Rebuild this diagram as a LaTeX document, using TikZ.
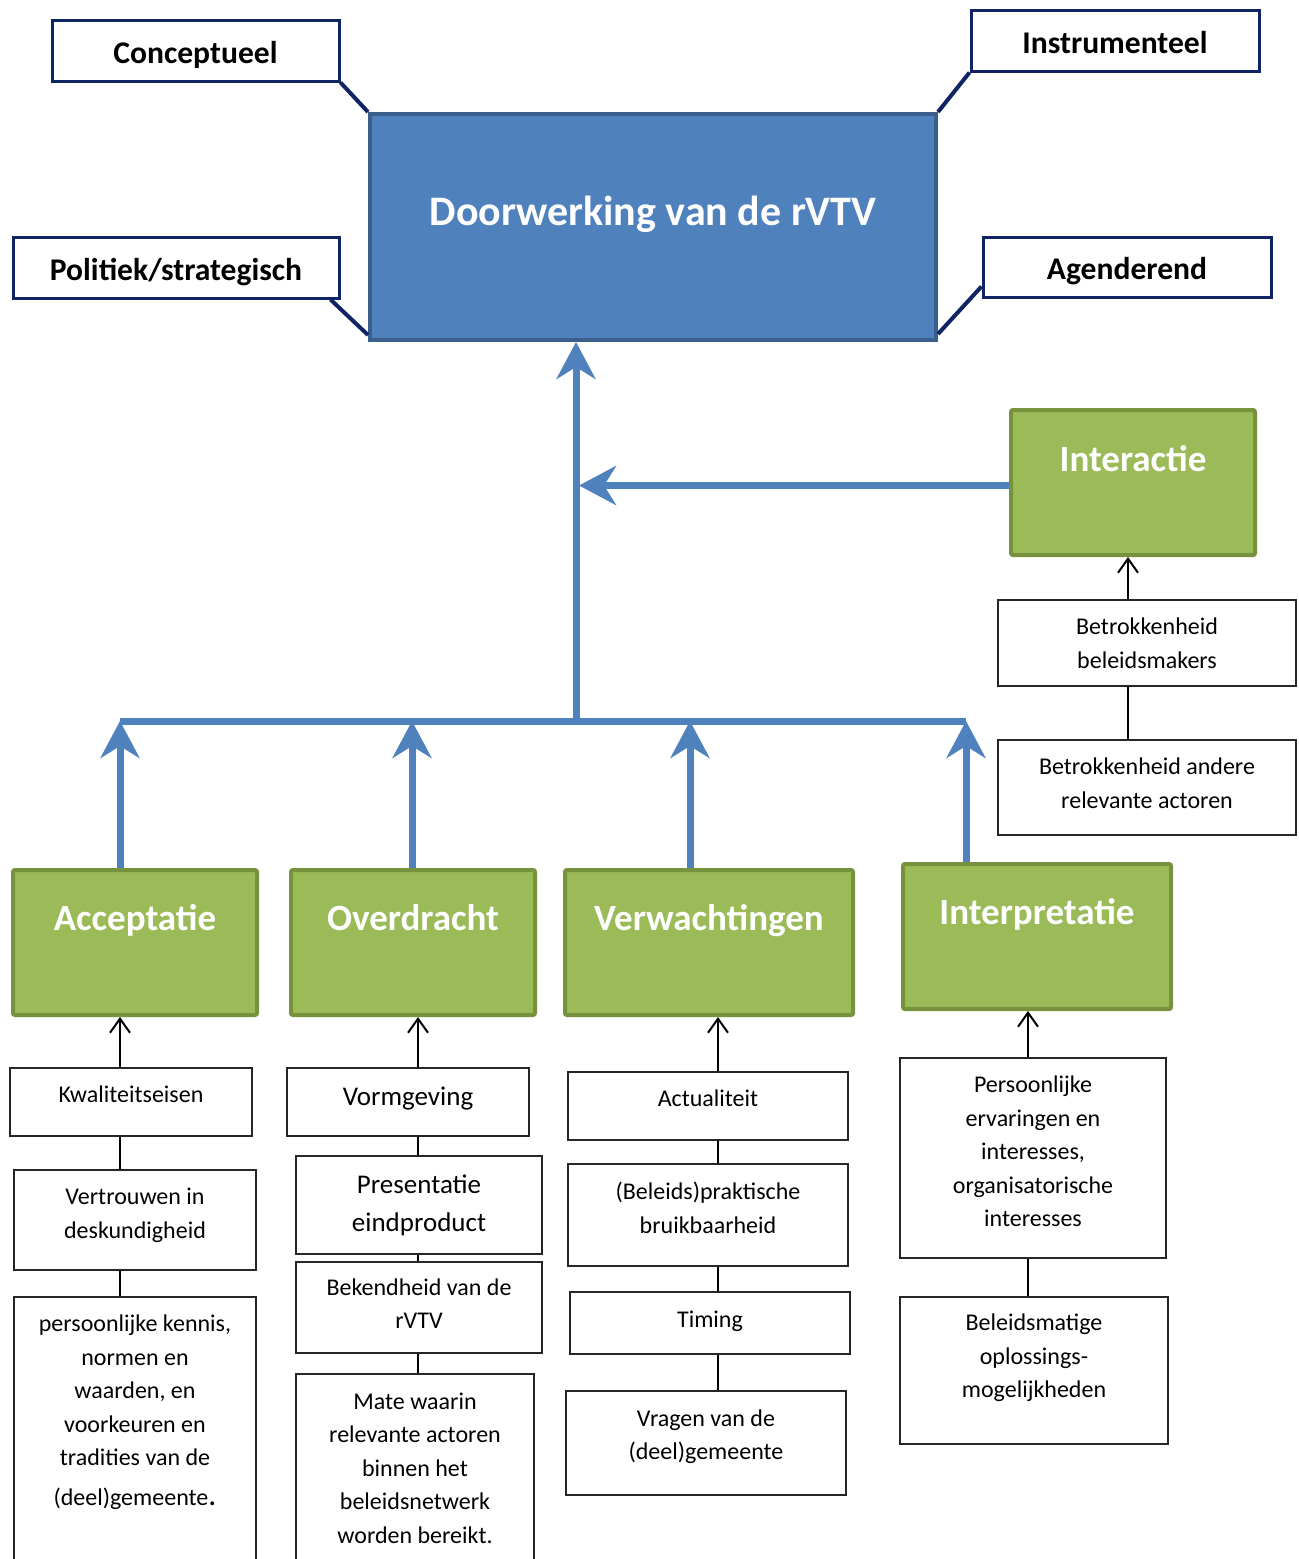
\documentclass[tikz,border=0pt]{standalone}
\usepackage{fontspec}
\setmainfont{Carlito}
\usetikzlibrary{arrows.meta,calc}

\definecolor{navy}{HTML}{0E2463}
\definecolor{mainblue}{HTML}{4F81BD}
\definecolor{mainedge}{HTML}{3A5F8B}
\definecolor{grfill}{HTML}{9BBB59}
\definecolor{gredge}{HTML}{76923C}

% box from two corners (pixel units): style, name, x1, y1, x2, y2
\newcommand\boxat[6]{%
  \node[#1, minimum width={(#5-#3)*0.5pt}, minimum height={(#6-#4)*0.5pt}]
    (#2) at ({(#3+#5)/2},{(#4+#6)/2}) {};}

\tikzset{
  navybox/.style={draw=navy, line width=1.5pt, fill=white, inner sep=0pt},
  mainbox/.style={draw=mainedge, line width=2pt, fill=mainblue, inner sep=0pt},
  greenbox/.style={draw=gredge, line width=2pt, fill=grfill, rounded corners=1pt, inner sep=0pt},
  smallbox/.style={draw=black!85, line width=0.8pt, fill=white, inner sep=0pt},
  navytxt/.style={anchor=base, inner sep=0pt, font=\fontsize{15.8pt}{19pt}\selectfont\bfseries},
  maintxt/.style={anchor=base, inner sep=0pt, text=white, font=\fontsize{21pt}{25pt}\selectfont\bfseries},
  greentxt/.style={anchor=base, inner sep=0pt, text=white, font=\fontsize{18.5pt}{22pt}\selectfont\bfseries},
  smtxt/.style={anchor=north, inner sep=0pt, align=center,
    font=\fontsize{12pt}{16.75pt}\selectfont, execute at begin node=\strut},
  mdtxt/.style={anchor=north, inner sep=0pt, align=center,
    font=\fontsize{13.5pt}{19pt}\selectfont, execute at begin node=\strut},
  navyline/.style={draw=navy, line width=2pt},
  bluebar/.style={draw=mainblue, line width=3.5pt},
  bluearrow/.style={draw=mainblue, line width=3.5pt,
    -{Stealth[length=18.5pt, width=19.5pt, inset=6pt]}},
  blackline/.style={draw=black, line width=1pt},
  blackarrow/.style={draw=black, line width=1pt,
    -{Straight Barb[length=7pt, width=10pt]}},
}

\begin{document}
\begin{tikzpicture}[x=0.5pt, y=-0.5pt]
\clip (0,0) rectangle (1299,1559);
\fill[white] (0,0) rectangle (1299,1559);

% ---- central box and the four kinds of use ----
\boxat{mainbox}{main}{370}{114}{936}{340}
\node[maintxt] (maint) at ($(main.north)+(0,113)$) {Doorwerking van de rVTV};

\boxat{navybox}{con}{52}{20}{339}{81}
\boxat{navybox}{pol}{13}{237}{339}{298}
\boxat{navybox}{ins}{971}{10}{1259}{71}
\boxat{navybox}{agd}{983}{237}{1271}{297}
\node[navytxt] (cont) at ($(con.north)+(0,45)$) {Conceptueel};
\node[navytxt] (polt) at ($(pol.north)+(0,45)$) {Politiek/strategisch};
\node[navytxt] (inst) at ($(ins.north)+(0,45)$) {Instrumenteel};
\node[navytxt] (agdt) at ($(agd.north)+(0,44)$) {Agenderend};

\draw[navyline] (con.south east) -- (main.north west);
\draw[navyline] ($(pol.south east)+(-10,0)$) -- ($(main.south west)+(0,-7)$);
\draw[navyline] (ins.south west) -- (main.north east);
\draw[navyline] ($(agd.south west)+(0,-12)$) -- ($(main.south east)+(0,-8)$);

% ---- factor boxes ----
\boxat{greenbox}{iac}{1011}{410}{1255}{555}
\boxat{greenbox}{acc}{13}{870}{257}{1015}
\boxat{greenbox}{ovd}{291}{870}{535}{1015}
\boxat{greenbox}{vwt}{565}{870}{853}{1015}
\boxat{greenbox}{itp}{903}{864}{1171}{1009}
\node[greentxt] (iact) at ($(iac.north)+(0,63)$) {Interactie};
\node[greentxt] (acct) at ($(acc.north)+(0,62)$) {Acceptatie};
\node[greentxt] (ovdt) at ($(ovd.north)+(0,62)$) {Overdracht};
\node[greentxt] (vwtt) at ($(vwt.north)+(0,62)$) {Verwachtingen};
\node[greentxt] (itpt) at ($(itp.north)+(0,62)$) {Interpretatie};

% ---- blue collector ----
\coordinate (barL) at (120,721);
\coordinate (barO) at (412,721);
\coordinate (barM) at (576,721);
\coordinate (barV) at (690,721);
\coordinate (barR) at (966,721);
\draw[bluebar] (barL) -- (barR);
\draw[bluearrow] (barM) -- (barM |- main.south);
\draw[bluearrow] ($(iac.west)+(0,3)$) -- ($(iac.west -| barM)+(3,3)$);
\draw[bluearrow] (barL |- acc.north) -- (barL);
\draw[bluearrow] (barO |- ovd.north) -- (barO);
\draw[bluearrow] (barV |- vwt.north) -- (barV);
\draw[bluearrow] (barR |- itp.north) -- (barR);

% ---- column x positions of the thin connectors ----
\coordinate (c1) at (120,0);
\coordinate (c2) at (418,0);
\coordinate (c3) at (718,0);
\coordinate (c4) at (1028,0);
\coordinate (c5) at (1128,0);

% ---- Interactie ----
\boxat{smallbox}{betb}{998}{600}{1296}{686}
\boxat{smallbox}{beta}{998}{740}{1296}{835}
\node[smtxt] (betbt) at ($(betb.north)+(0,18.5)$) {Betrokkenheid\\beleidsmakers};
\node[smtxt] (betat) at ($(beta.north)+(0,18.5)$) {Betrokkenheid andere\\relevante actoren};
\draw[blackarrow] (betb.north -| c5) -- (iac.south -| c5);
\draw[blackline] (betb.south -| c5) -- (beta.north -| c5);

% ---- Acceptatie ----
\boxat{smallbox}{kwal}{10}{1068}{252}{1136}
\boxat{smallbox}{vert}{14}{1170}{256}{1270}
\boxat{smallbox}{pers}{14}{1297}{256}{1590}
\node[smtxt] (kwalt) at ($(kwal.north)+(0,11)$) {Kwaliteitseisen};
\node[smtxt] (vertt) at ($(vert.north)+(0,18.5)$) {Vertrouwen in\\deskundigheid};
\node[smtxt] (perst) at ($(pers.north)+(0,18.5)$) {persoonlijke kennis,\\normen en\\waarden, en\\voorkeuren en\\tradities van de\\[3.25pt](deel)gemeente{\fontsize{16pt}{16pt}\selectfont.}};
\draw[blackarrow] (kwal.north -| c1) -- (acc.south -| c1);
\draw[blackline] (kwal.south -| c1) -- (vert.north -| c1);
\draw[blackline] (vert.south -| c1) -- (pers.north -| c1);

% ---- Overdracht ----
\boxat{smallbox}{vorm}{287}{1068}{529}{1136}
\boxat{smallbox}{pres}{296}{1156}{542}{1254}
\boxat{smallbox}{bek}{296}{1262}{542}{1353}
\boxat{smallbox}{mate}{296}{1374}{534}{1590}
\node[mdtxt] (vormt) at ($(vorm.north)+(0,11)$) {Vormgeving};
\node[mdtxt] (prest) at ($(pres.north)+(0,19.5)$) {Presentatie\\eindproduct};
\node[smtxt] (bekt) at ($(bek.north)+(0,17)$) {Bekendheid van de\\rVTV};
\node[smtxt] (matet) at ($(mate.north)+(0,19)$) {Mate waarin\\relevante actoren\\binnen het\\beleidsnetwerk\\worden bereikt.};
\draw[blackarrow] (vorm.north -| c2) -- (ovd.south -| c2);
\draw[blackline] (vorm.south -| c2) -- (pres.north -| c2);
\draw[blackline] (pres.south -| c2) -- (bek.north -| c2);
\draw[blackline] (bek.south -| c2) -- (mate.north -| c2);

% ---- Verwachtingen ----
\boxat{smallbox}{act}{568}{1072}{848}{1140}
\boxat{smallbox}{bel}{568}{1164}{848}{1266}
\boxat{smallbox}{tim}{570}{1292}{850}{1354}
\boxat{smallbox}{vra}{566}{1391}{846}{1495}
\node[smtxt] (actt) at ($(act.north)+(0,11)$) {Actualiteit};
\node[smtxt] (belt) at ($(bel.north)+(0,18.5)$) {(Beleids)praktische\\bruikbaarheid};
\node[smtxt] (timt) at ($(tim.north)+(0,12)$) {Timing};
\node[smtxt] (vrat) at ($(vra.north)+(0,19)$) {Vragen van de\\(deel)gemeente};
\draw[blackarrow] (act.north -| c3) -- (vwt.south -| c3);
\draw[blackline] (act.south -| c3) -- (bel.north -| c3);
\draw[blackline] (bel.south -| c3) -- (tim.north -| c3);
\draw[blackline] (tim.south -| c3) -- (vra.north -| c3);

% ---- Interpretatie ----
\boxat{smallbox}{perso}{900}{1058}{1166}{1258}
\boxat{smallbox}{bms}{900}{1297}{1168}{1444}
\node[smtxt] (persot) at ($(perso.north)+(0,18.5)$) {Persoonlijke\\ervaringen en\\interesses,\\organisatorische\\interesses};
\node[smtxt] (bmst) at ($(bms.north)+(0,17.5)$) {Beleidsmatige\\oplossings-\\mogelijkheden};
\draw[blackarrow] (perso.north -| c4) -- (itp.south -| c4);
\draw[blackline] (perso.south -| c4) -- (bms.north -| c4);
\end{tikzpicture}
\end{document}
